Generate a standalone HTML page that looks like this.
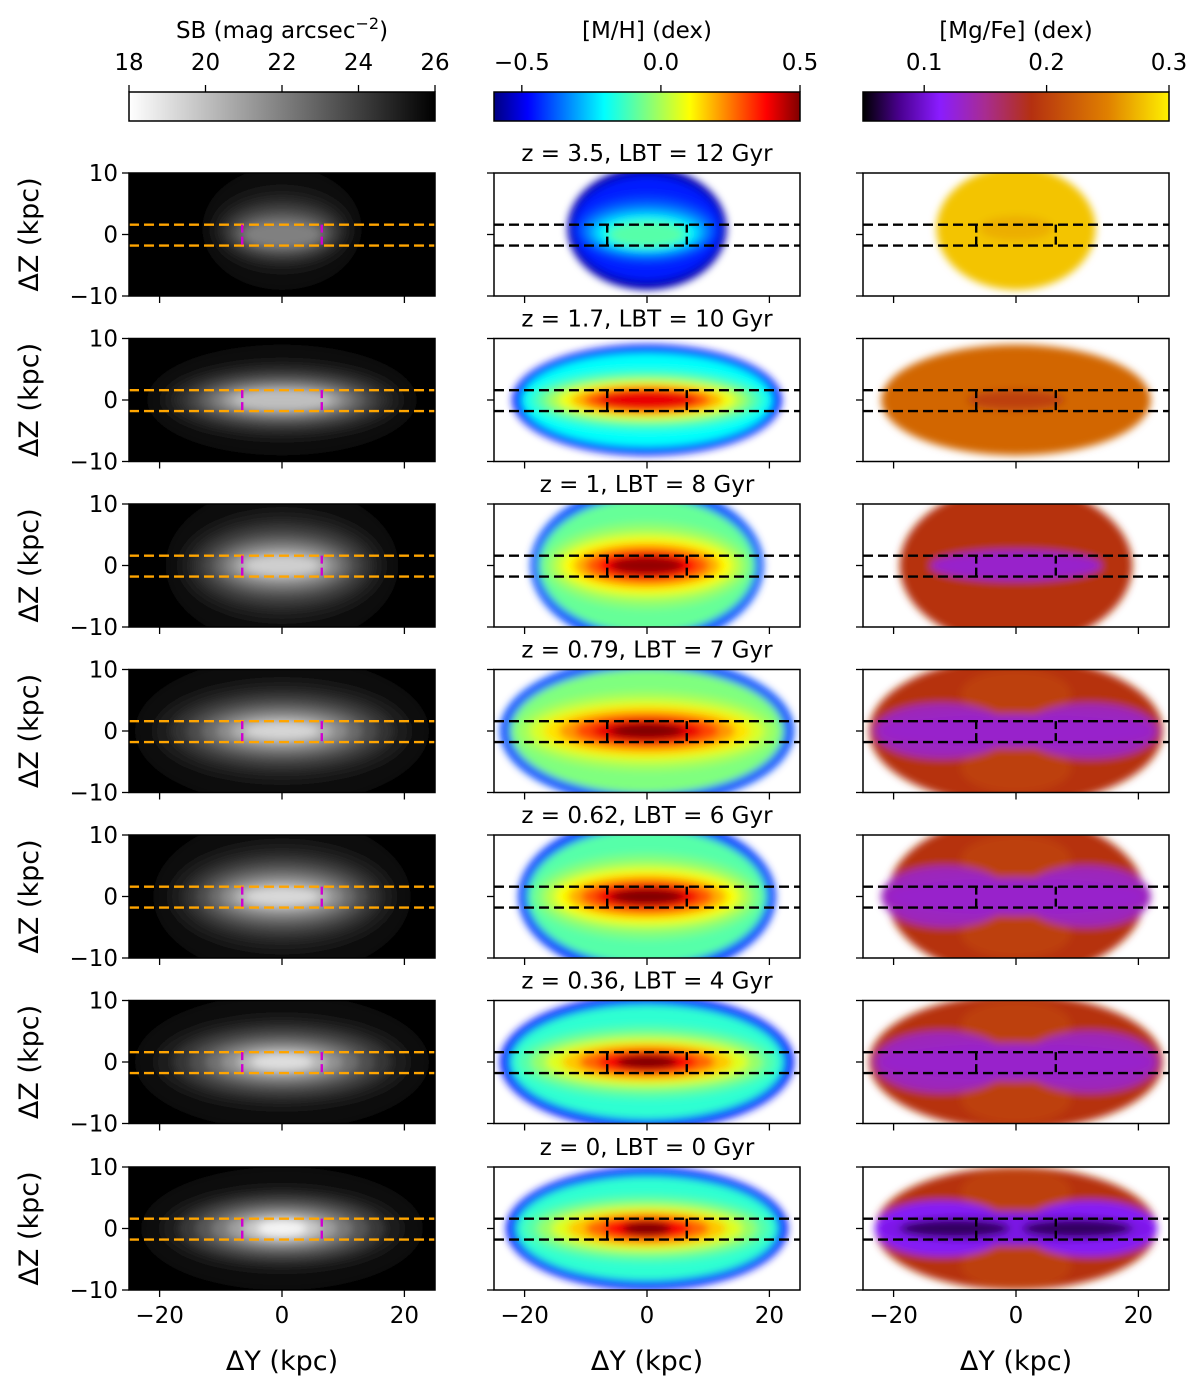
<!DOCTYPE html>
<html><head><meta charset="utf-8">
<style>
html,body{margin:0;padding:0;background:#fff;}
svg{display:block;font-family:"DejaVu Sans","Liberation Sans",sans-serif;}
</style></head>
<body>
<svg id="fig" width="1200" height="1382" viewBox="0 0 1200 1382" xmlns="http://www.w3.org/2000/svg">
<defs>
  <filter id="blur" x="-30%" y="-60%" width="160%" height="220%"><feGaussianBlur stdDeviation="4"/></filter>
  <linearGradient id="g-sb" x1="0" x2="1" y1="0" y2="0"><stop offset="0" stop-color="#fff"/><stop offset="1" stop-color="#000"/></linearGradient>
  <linearGradient id="g-mh" x1="0" x2="1">
    <stop offset="0" stop-color="#00007f"/><stop offset="0.11" stop-color="#0000ff"/><stop offset="0.36" stop-color="#00ffff"/>
    <stop offset="0.5" stop-color="#7fff7f"/><stop offset="0.64" stop-color="#ffff00"/><stop offset="0.89" stop-color="#ff0000"/><stop offset="1" stop-color="#7f0000"/></linearGradient>
  <linearGradient id="g-mg" x1="0" x2="1">
    <stop offset="0" stop-color="#000000"/><stop offset="0.12" stop-color="#4a0090"/><stop offset="0.25" stop-color="#8a1cff"/>
    <stop offset="0.4" stop-color="#a82c90"/><stop offset="0.55" stop-color="#b43010"/><stop offset="0.8" stop-color="#e08000"/><stop offset="1" stop-color="#fff200"/></linearGradient>
</defs>
</svg>
<script>
const redshiftLabels = ["z = 3.5, LBT = 12 Gyr","z = 1.7, LBT = 10 Gyr","z = 1, LBT = 8 Gyr","z = 0.79, LBT = 7 Gyr","z = 0.62, LBT = 6 Gyr","z = 0.36, LBT = 4 Gyr","z = 0, LBT = 0 Gyr"];
// blob extents (kpc)
const outerHalfWidth = [13, 22, 19, 24, 21, 24, 23];
const outerHalfHeight = [10, 9, 13, 12, 13, 11, 10];
const coreHalfWidth = [6, 8, 6, 6, 6, 5, 4];
const coreHalfHeight = [2, 1.6, 1.5, 1.3, 1.3, 1.2, 1.2];
const blobOffsetZ = [1, 0, 0, 0, 0, 0, 0];
// values
const sbOuter = [25.5, 25.5, 25.5, 25.5, 25.5, 25.5, 25.5];
const sbInner = [22, 20, 19.5, 19.3, 19.2, 19, 18.3];
const mhOuter = [-0.55, -0.45, -0.4, -0.4, -0.42, -0.45, -0.45];
const mhBody = [-0.45, -0.2, -0.08, -0.05, -0.1, -0.15, -0.15];
const mhInner = [-0.1, 0.4, 0.48, 0.5, 0.5, 0.5, 0.5];
const mgOuter = [0.28, 0.23, 0.19, 0.19, 0.19, 0.19, 0.19];
const mgInner = [0.27, 0.2, 0.19, 0.19, 0.19, 0.19, 0.19];
const mgDiskValue = [0.27, 0.19, 0.13, 0.125, 0.125, 0.125, 0.1];
const mgDiskHalfWidth = [0, 0, 14, 22, 21, 22, 22];
const mgDiskHalfHeight = [0, 0, 2.5, 4.5, 5, 5, 4.5];
// axes
const xTicks = [-20, 0, 20];
const yTicks = [10, 0, -10];
const sbTicks = [18, 20, 22, 24, 26];
const mhTicks = [-0.5, 0.0, 0.5];
const mhTickLabels = ["\u22120.5", "0.0", "0.5"];
const mgTicks = [0.1, 0.2, 0.3];
const sbRange = [18, 26], mhRange = [-0.6, 0.5], mgRange = [0.05, 0.3];
const bandTop = 1.6, bandBottom = -1.8, boxHalf = 6.5;

const NS = "http://www.w3.org/2000/svg";
const svg = document.getElementById('fig');
function mk(tag, attrs, parent, text){ const e=document.createElementNS(NS,tag); for(const k in attrs) e.setAttribute(k,attrs[k]); if(text!==undefined) e.textContent=text; (parent||svg).appendChild(e); return e; }

const colX = [129, 494, 863], panelW = 306;
const rowY = [173, 338.5, 504, 669.5, 835, 1000.5, 1167], panelH = 123;
const FS = 23, FT = 27;

function lerp(a,b,t){return a+(b-a)*t;}
function mix(c1,c2,t){return c1.map((v,i)=>Math.round(lerp(v,c2[i],t)));}
function stopsColor(stops, t){ t=Math.max(0,Math.min(1,t)); for(let i=1;i<stops.length;i++){ if(t<=stops[i][0]){const a=stops[i-1],b=stops[i];return mix(a[1],b[1],(t-a[0])/(b[0]-a[0]));}} return stops[stops.length-1][1]; }
const jet=[[0,[0,0,127]],[0.11,[0,0,255]],[0.36,[0,255,255]],[0.5,[127,255,127]],[0.64,[255,255,0]],[0.89,[255,0,0]],[1,[127,0,0]]];
const mgmap=[[0,[0,0,0]],[0.12,[74,0,144]],[0.25,[138,28,255]],[0.4,[168,44,144]],[0.55,[180,48,16]],[0.8,[224,128,0]],[1,[255,242,0]]];
function rgb(c){return `rgb(${c[0]},${c[1]},${c[2]})`;}
function colSB(v){const g=Math.round(255*(1-(v-sbRange[0])/(sbRange[1]-sbRange[0])));return rgb([g,g,g]);}
function colMH(v){return rgb(stopsColor(jet,(v-mhRange[0])/(mhRange[1]-mhRange[0])));}
function colMG(v){return rgb(stopsColor(mgmap,(v-mgRange[0])/(mgRange[1]-mgRange[0])));}

const cbY=92, cbH=29;
const cbDefs=[
 {grad:'g-sb',ticks:sbTicks,labels:sbTicks.map(String),range:sbRange,title:null,name:'sb'},
 {grad:'g-mh',ticks:mhTicks,labels:mhTickLabels,range:mhRange,title:'[M/H] (dex)',name:'mh'},
 {grad:'g-mg',ticks:mgTicks,labels:mgTicks.map(v=>v.toFixed(1)),range:mgRange,title:'[Mg/Fe] (dex)',name:'mgfe'}];
cbDefs.forEach((d,c)=>{
  const x0=colX[c];
  const r=mk('rect',{x:x0,y:cbY,width:panelW,height:cbH,fill:`url(#${d.grad})`,stroke:'#000','stroke-width':1.5});
  
  
  d.ticks.forEach((v,i)=>{
    const x=x0+(v-d.range[0])/(d.range[1]-d.range[0])*panelW;
    mk('line',{x1:x,x2:x,y1:cbY,y2:cbY-7,stroke:'#000','stroke-width':1.3});
    const t=mk('text',{x:x,y:cbY-22,'font-size':FS,'text-anchor':'middle'},svg,d.labels[i]);
    
    
  });
  let tt;
  if(d.title) tt=mk('text',{x:x0+panelW/2,y:38,'font-size':FS,'text-anchor':'middle'},svg,d.title);
  else { tt=mk('text',{x:x0+panelW/2,y:38,'font-size':FS,'text-anchor':'middle'},svg,'SB (mag arcsec');
    mk('tspan',{dy:-9,'font-size':16},tt,'\u22122'); mk('tspan',{dy:9},tt,')'); }
  
  
});

function layer(parent,cx,cy,rx,ry,fill){
  const e=mk('ellipse',{cx:cx,cy:cy,rx:Math.max(rx,0.1),ry:Math.max(ry,0.1),fill:fill},parent);
  
  
  return e;
}

for(let r=0;r<7;r++){
  const y0=rowY[r];
  const t=mk('text',{x:colX[1]+panelW/2,y:y0-12,'font-size':FS,'text-anchor':'middle'},svg,redshiftLabels[r]);
  
  
  for(let c=0;c<3;c++){
    const x0=colX[c];
    const X=v=>x0+(v+25)/50*panelW;
    const Y=v=>y0+(10-v)/20*panelH;
    const sx=panelW/50, sy=panelH/20;
    const g=mk('g',{});
    
    
    const cid=`clip${r}_${c}`;
    const cp=mk('clipPath',{id:cid},g); mk('rect',{x:x0,y:y0,width:panelW,height:panelH},cp);
    mk('rect',{x:x0,y:y0,width:panelW,height:panelH,fill:c===0?'#000':'#fff'},g);
    const bg=mk('g',{'clip-path':`url(#${cid})`},g);
    const bl=mk('g',{filter:'url(#blur)'},bg);
    const W=outerHalfWidth[r], H=outerHalfHeight[r], cw=coreHalfWidth[r], ch=coreHalfHeight[r];
    const off=blobOffsetZ[r];
    if(c===0){
      const N=8;
      for(let k=0;k<N;k++){ const f=k/(N-1);
        layer(bl,X(0),Y(off*(1-f)),lerp(W,cw,Math.pow(f,0.9))*sx,lerp(H,ch,Math.pow(f,0.55))*sy,colSB(lerp(sbOuter[r],sbInner[r],Math.pow(f,1.4))));
      }
    } else if(c===1){
      layer(bl,X(0),Y(off),W*sx,H*sy,colMH(mhOuter[r]));
      const N=8;
      for(let k=0;k<N;k++){ const f=k/(N-1);
        const hw=lerp(W*0.93,cw,Math.pow(f,1.3)), hh=lerp(H*0.85,ch,Math.pow(f,0.45));
        layer(bl,X(0),Y(off*(1-f)),hw*sx,hh*sy,colMH(lerp(mhBody[r],mhInner[r],Math.pow(f,1.3))));
      }
    } else {
      layer(bl,X(0),Y(off),W*sx,H*sy,colMG(mgOuter[r]));
      if(r>=3){
        layer(bl,X(0),Y(6),9*sx,4*sy,colMG(mgOuter[r]+0.01));
        layer(bl,X(0),Y(-6),9*sx,4*sy,colMG(mgOuter[r]+0.01));
      }
      if(mgDiskHalfWidth[r]>0){
        const dw=mgDiskHalfWidth[r], dh=mgDiskHalfHeight[r];
        if(r>=3){
          layer(bl,X(-dw*0.55),Y(0),dw*0.5*sx,dh*sy,colMG(mgDiskValue[r]+0.01));
          layer(bl,X(dw*0.55),Y(0),dw*0.5*sx,dh*sy,colMG(mgDiskValue[r]+0.01));
          layer(bl,X(0),Y(0),dw*sx,dh*0.6*sy,colMG(mgDiskValue[r]+0.005));
          if(r===6){
            layer(bl,X(-10),Y(0),9*sx,1.5*sy,colMG(0.07));
            layer(bl,X(10),Y(0),9*sx,1.5*sy,colMG(0.07));
          }
        } else {
          layer(bl,X(0),Y(0),dw*sx,dh*sy,colMG(mgDiskValue[r]));
        }
      } else {
        layer(bl,X(0),Y(off),cw*sx,ch*sy,colMG(mgInner[r]));
      }
    }
    const dc=c===0?'#ffa500':'#000';
    [bandTop,bandBottom].forEach(z=>{
      const l=mk('line',{x1:x0,x2:x0+panelW,y1:Y(z),y2:Y(z),stroke:dc,'stroke-width':2.4,'stroke-dasharray':'10,5'},bg);
      
      
    });
    [-boxHalf,boxHalf].forEach(xv=>{
      const l=mk('line',{x1:X(xv),x2:X(xv),y1:Y(bandTop),y2:Y(bandBottom),stroke:c===0?'#d000d0':'#000','stroke-width':2.4,'stroke-dasharray':'8,4'},bg);
      
      
    });
    mk('rect',{x:x0,y:y0,width:panelW,height:panelH,fill:'none',stroke:'#000','stroke-width':1.5},g);
    xTicks.forEach(v=>{ mk('line',{x1:X(v),x2:X(v),y1:y0+panelH,y2:y0+panelH+7,stroke:'#000','stroke-width':1.3},g);
      if(r===6){ const tl=mk('text',{x:X(v),y:y0+panelH+33,'font-size':FS,'text-anchor':'middle'},g,v<0?'\u2212'+Math.abs(v):String(v));
        
         }});
    yTicks.forEach(v=>{ mk('line',{x1:x0,x2:x0-7,y1:Y(v),y2:Y(v),stroke:'#000','stroke-width':1.3},g);
      if(c===0){ const tl=mk('text',{x:x0-11,y:Y(v)+8,'font-size':FS,'text-anchor':'end'},g,v<0?'\u2212'+Math.abs(v):String(v));
        
         }});
    if(c===0){
      const yl=mk('text',{x:0,y:0,'font-size':FT,'text-anchor':'middle',transform:`translate(38,${y0+panelH/2}) rotate(-90)`},g,'\u0394Z (kpc)');
      
      
    }
    if(r===6){
      const xl=mk('text',{x:x0+panelW/2,y:1370,'font-size':FT,'text-anchor':'middle'},g,'\u0394Y (kpc)');
      
      
    }
  }
}
</script>
</body></html>
